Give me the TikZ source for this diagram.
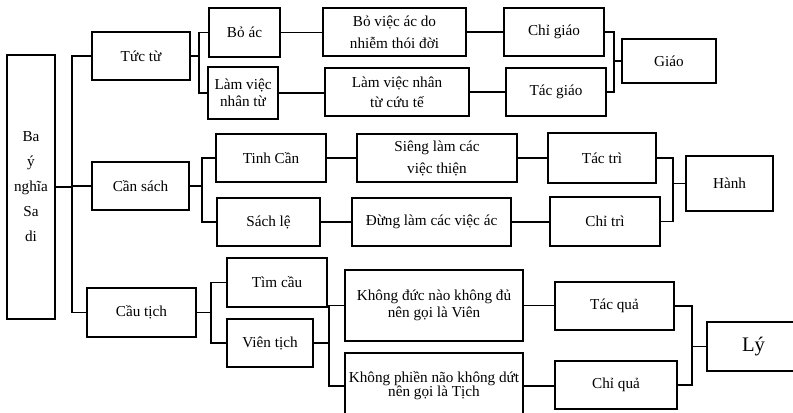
\documentclass[tikz,border=0pt]{standalone}
\usepackage{fontspec}
\setmainfont{Liberation Serif}
\begin{document}
\begin{tikzpicture}[x=0.75pt,y=-0.75pt,
 box/.style={draw, line width=1.1pt, inner sep=1pt, align=center, font=\fontsize{11.4}{12.75}\selectfont},
 sz/.style 2 args={minimum width=#1*0.75pt, minimum height=#2*0.75pt},
 conn/.style={line width=1.1pt}]
\useasboundingbox (0,0) rectangle (793,413);
\clip (0,0) rectangle (793,413);
% root
\node[box, sz={48}{264}] (root) at (31,187) {Ba\\[6pt]ý\\[6pt]nghĩa\\[6pt]Sa\\[6pt]di};
% top group
\node[box, sz={98}{48}] (tuc) at (141,56) {Tức từ};
\node[box, sz={71}{49}] (boac) at (244.5,32.5) {Bỏ ác};
\node[box, sz={70}{52}] (lamviec) at (243,93) {Làm việc\\nhân từ};
\node[box, sz={143}{48}] (boviec) at (394.5,32) {Bỏ việc ác do\\[3.75pt]nhiễm thói đời};
\node[box, sz={144}{48}] (lamnhan) at (397,92) {Làm việc nhân\\[2.25pt]từ cứu tế};
\node[box, sz={100}{48}] (chigiao) at (554,32) {Chỉ giáo};
\node[box, sz={100}{48}] (tacgiao) at (556,92) {Tác giáo};
\node[box, sz={94}{44}] (giao) at (669,61) {Giáo};
% middle group
\node[box, sz={97}{48}] (cansach) at (140.5,186) {Cần sách};
\node[box, sz={110}{48}] (tinhcan) at (271,158) {Tinh Cần};
\node[box, sz={103}{48}] (sachle) at (268.5,222) {Sách lệ};
\node[box, sz={160}{48}] (sieng) at (437,158) {Siêng làm các\\[3.75pt]việc thiện};
\node[box, sz={159}{48}] (dung) at (431.5,222) {Đừng làm các việc ác};
\node[box, sz={108}{50}] (tactri) at (602,158) {Tác trì};
\node[box, sz={110}{49}] (chitri) at (605,221.5) {Chỉ trì};
\node[box, sz={87}{55}] (hanh) at (729.5,183.5) {Hành};
% bottom group
\node[box, sz={109}{49}] (cautich) at (141.5,312.5) {Cầu tịch};
\node[box, sz={100}{49}] (timcau) at (277,282.5) {Tìm cầu};
\node[box, sz={86}{48}] (vientich) at (270,343) {Viên tịch};
\node[box, sz={178}{71}] (khongduc) at (434,305.5) {Không đức nào không đủ\\nên gọi là Viên};
\node[box, sz={178}{66}] (khongphien) at (434,386) {Không phiền não không dứt\\[-2.25pt]nên gọi là Tịch};
\node[box, sz={119}{48}] (tacqua) at (614.5,306) {Tác quả};
\node[box, sz={122}{48}] (chiqua) at (616,385) {Chỉ quả};
\node[box, sz={93}{49}, font=\fontsize{15.5}{18}\selectfont] (ly) at (753.5,346.5) {Lý};
% junctions
\coordinate (r) at (72,187);
\coordinate (jt) at (199,56);
\coordinate (jg) at (614,61);
\coordinate (js) at (202,186);
\coordinate (jh) at (673,183.5);
\coordinate (jc) at (211,312.5);
\coordinate (jv) at (329,343);
\coordinate (jl) at (692,346.5);
% connectors
\draw[conn] (root.east) -- (r);
\draw[conn] (r) |- (tuc.west);
\draw[conn] (r) |- (cansach.west);
\draw[conn] (r) |- (cautich.west);
\draw[conn] (tuc.east) -- (jt);
\draw[conn] (jt) |- (boac.west);
\draw[conn] (jt) |- (lamviec.west);
\draw[conn] (boac.east) -- (boac.east -| boviec.west);
\draw[conn] (lamviec.east) -- (lamviec.east -| lamnhan.west);
\draw[conn] (boviec.east) -- (boviec.east -| chigiao.west);
\draw[conn] (lamnhan.east) -- (lamnhan.east -| tacgiao.west);
\draw[conn] (chigiao.east) -| (jg);
\draw[conn] (tacgiao.east) -| (jg);
\draw[conn] (jg) -- (giao.west);
\draw[conn] (cansach.east) -- (js);
\draw[conn] (js) |- (tinhcan.west);
\draw[conn] (js) |- (sachle.west);
\draw[conn] (tinhcan.east) -- (tinhcan.east -| sieng.west);
\draw[conn] (sachle.east) -- (sachle.east -| dung.west);
\draw[conn] (sieng.east) -- (sieng.east -| tactri.west);
\draw[conn] (dung.east) -- (dung.east -| chitri.west);
\draw[conn] (tactri.east) -| (jh);
\draw[conn] (chitri.east) -| (jh);
\draw[conn] (jh) -- (hanh.west);
\draw[conn] (cautich.east) -- (jc);
\draw[conn] (jc) |- (timcau.west);
\draw[conn] (jc) |- (vientich.west);
\draw[conn] (vientich.east) -- (jv);
\draw[conn] (jv) |- (khongduc.west);
\draw[conn] (jv) |- (khongphien.west);
\draw[conn] (khongduc.east) -- (khongduc.east -| tacqua.west);
\draw[conn] (khongphien.east) -- (khongphien.east -| chiqua.west);
\draw[conn] (tacqua.east) -| (jl);
\draw[conn] (chiqua.east) -| (jl);
\draw[conn] (jl) -- (ly.west);
\end{tikzpicture}
\end{document}
